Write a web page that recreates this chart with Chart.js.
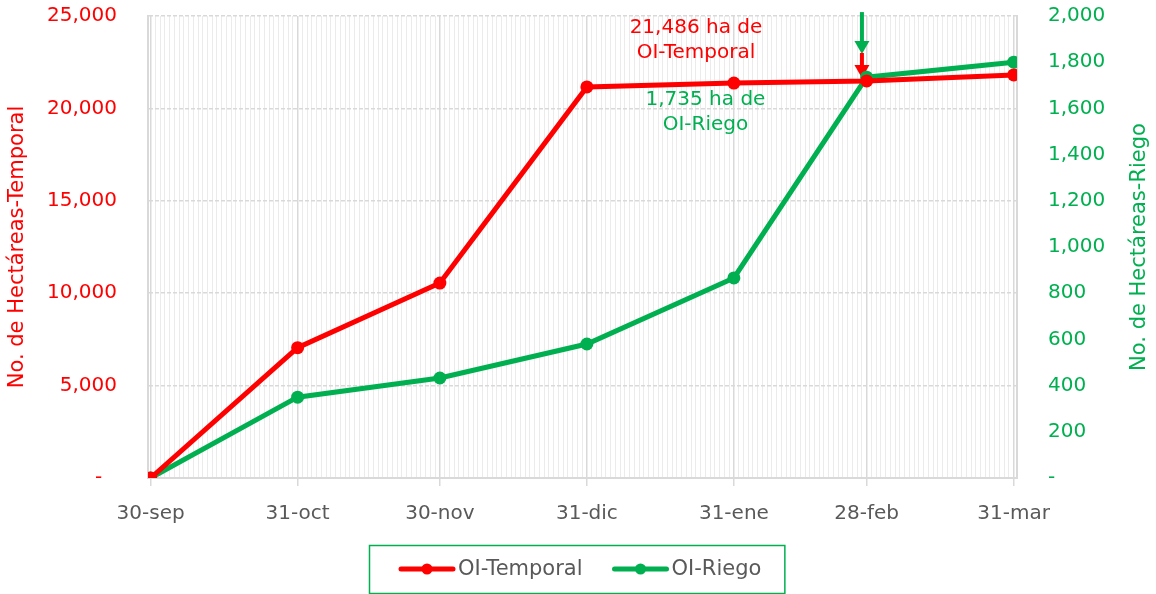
<!DOCTYPE html>
<html>
<head>
<meta charset="utf-8">
<script src="https://cdn.jsdelivr.net/npm/chart.js@4.4.0/dist/chart.umd.min.js"></script>
<style>
html,body{margin:0;padding:0;background:#ffffff;overflow:hidden;}
#wrap{width:1156px;height:594px;position:relative;}
</style>
</head>
<body>
<div id="wrap"><canvas id="c" width="1156" height="594"></canvas></div>
<script>
// ---------- data ----------
const categories = ['30-sep', '31-oct', '30-nov', '31-dic', '31-ene', '28-feb', '31-mar'];
const dayOffsets = [0, 31, 61, 92, 123, 151, 182];          // days after 30-sep
const temporalHa = [0, 7050, 10550, 21160, 21370, 21486, 21810];
const riegoHa    = [0, 350, 433, 580, 866, 1735, 1800];
const seriesNames = ['OI-Temporal', 'OI-Riego'];
const leftAxisMax = 25000, leftAxisStep = 5000;
const rightAxisMax = 2000, rightAxisStep = 200;
const leftTitle = 'No. de Hectáreas-Temporal';
const rightTitle = 'No. de Hectáreas-Riego';

// annotation texts and anchor values (x in days, y in axis units)
const noteTemporalLines = ['21,486 ha de', 'OI-Temporal'];
const noteTemporalAt = { day: 115, value: 24380 };          // left axis
const noteRiegoLines = ['1,735 ha de', 'OI-Riego'];
const noteRiegoAt = { day: 117, value: 1636 };              // right axis
const arrowTemporal = { day: 150, from: 23000, to: 21650 }; // left axis
const arrowRiego    = { day: 150, from: 2017, to: 1835 };   // right axis

// ---------- styles ----------
const RED = '#FF0000', GREEN = '#00B050', GREY = '#595959';
const FONT = "'DejaVu Sans', sans-serif";
Chart.defaults.font.family = FONT;
Chart.defaults.font.size = 20;

const fmt = v => v === 0 ? '-' : Math.round(v).toLocaleString('en-US');

function drawArrow(ctx, x, yTop, yTip, color) {
  const headLen = 13, headW = 15;
  ctx.save();
  ctx.strokeStyle = color; ctx.fillStyle = color; ctx.lineWidth = 4;
  ctx.beginPath(); ctx.moveTo(x, yTop); ctx.lineTo(x, yTip - headLen + 1); ctx.stroke();
  ctx.beginPath();
  ctx.moveTo(x - headW / 2, yTip - headLen);
  ctx.lineTo(x + headW / 2, yTip - headLen);
  ctx.lineTo(x, yTip);
  ctx.closePath(); ctx.fill();
  ctx.restore();
}

const annotatePlugin = {
  id: 'annotate',
  beforeDatasetsDraw(chart) {
    const ctx = chart.ctx, xs = chart.scales.x, yl = chart.scales.y, yr = chart.scales.y1;
    drawArrow(ctx, xs.getPixelForValue(arrowRiego.day), yr.getPixelForValue(arrowRiego.from), yr.getPixelForValue(arrowRiego.to), GREEN);
    drawArrow(ctx, xs.getPixelForValue(arrowTemporal.day), yl.getPixelForValue(arrowTemporal.from), yl.getPixelForValue(arrowTemporal.to), RED);
  },
  afterDraw(chart) {
    const ctx = chart.ctx, xs = chart.scales.x, yl = chart.scales.y, yr = chart.scales.y1;
    const area = chart.chartArea;
    const lh = 25;
    ctx.save();
    // axis titles, both reading bottom-to-top
    ctx.font = '21px ' + FONT;
    ctx.textAlign = 'center'; ctx.textBaseline = 'middle';
    const midY = (area.top + area.bottom) / 2;
    ctx.save(); ctx.translate(18, midY); ctx.rotate(-Math.PI / 2);
    ctx.fillStyle = RED; ctx.fillText(leftTitle, 0, 0); ctx.restore();
    ctx.save(); ctx.translate(1140, midY); ctx.rotate(-Math.PI / 2);
    ctx.fillStyle = GREEN; ctx.fillText(rightTitle, 0, 0); ctx.restore();

    ctx.font = '20px ' + FONT;
    ctx.fillStyle = RED;
    let x = xs.getPixelForValue(noteTemporalAt.day), y = yl.getPixelForValue(noteTemporalAt.value);
    noteTemporalLines.forEach((t, i) => ctx.fillText(t, x, y + i * lh));
    ctx.fillStyle = GREEN;
    x = xs.getPixelForValue(noteRiegoAt.day); y = yr.getPixelForValue(noteRiegoAt.value);
    noteRiegoLines.forEach((t, i) => ctx.fillText(t, x, y + i * lh));

    // legend box
    ctx.font = '21px ' + FONT;
    const items = chart.data.datasets.map(d => ({ label: d.label, color: d.borderColor, w: ctx.measureText(d.label).width }));
    const lineLen = 56, gapText = 3, gapItems = 30, padL = 30, padR = 23;
    let total = padL + padR + gapItems * (items.length - 1);
    items.forEach(it => total += lineLen + gapText + it.w);
    const bx = Math.round(chart.width / 2 - 1.5 - total / 2), by = 545, bh = 48;
    ctx.strokeStyle = GREEN; ctx.lineWidth = 1.5;
    ctx.strokeRect(bx + 0.5, by + 0.5, total, bh);
    let cx = bx + padL; const cy = by + 24;
    ctx.textAlign = 'left';
    items.forEach(it => {
      ctx.strokeStyle = it.color; ctx.lineWidth = 5; ctx.lineCap = 'round';
      ctx.beginPath(); ctx.moveTo(cx + 2, cy); ctx.lineTo(cx + lineLen - 2, cy); ctx.stroke();
      ctx.fillStyle = it.color;
      ctx.beginPath(); ctx.arc(cx + lineLen / 2, cy, 5.5, 0, Math.PI * 2); ctx.fill();
      ctx.fillStyle = GREY;
      ctx.fillText(it.label, cx + lineLen + gapText, cy + 1);
      cx += lineLen + gapText + it.w + gapItems;
    });
    ctx.restore();
  }
};

const toXY = vals => vals.map((v, i) => ({ x: dayOffsets[i], y: v }));

new Chart(document.getElementById('c'), {
  type: 'line',
  data: {
    datasets: [
      { label: seriesNames[0], data: toXY(temporalHa), yAxisID: 'y', xAxisID: 'x',
        borderColor: RED, backgroundColor: RED, borderWidth: 5, pointRadius: 6.5,
        pointBorderWidth: 0, pointBackgroundColor: RED, tension: 0 },
      { label: seriesNames[1], data: toXY(riegoHa), yAxisID: 'y1', xAxisID: 'x',
        borderColor: GREEN, backgroundColor: GREEN, borderWidth: 5, pointRadius: 6.5,
        pointBorderWidth: 0, pointBackgroundColor: GREEN, tension: 0 }
    ]
  },
  options: {
    responsive: false, animation: false, devicePixelRatio: 1,
    layout: { padding: { top: 16, left: 0, right: 0, bottom: 0 } },
    plugins: { legend: { display: false }, tooltip: { enabled: false } },
    scales: {
      x: {
        type: 'linear', position: 'bottom', min: -0.55, max: 182.7,
        afterBuildTicks: s => { s.ticks = dayOffsets.map(v => ({ value: v })); },
        afterFit: s => { s.height = 116; },
        ticks: { autoSkip: false, maxRotation: 0, padding: 16, color: GREY,
          callback: v => categories[dayOffsets.indexOf(v)] },
        grid: { color: '#D9D9D9', lineWidth: 1.5, tickLength: 8, tickColor: '#D9D9D9', z: -1 },
        border: { display: true, color: '#D9D9D9', width: 2 }
      },
      xDays: {
        type: 'linear', position: 'bottom', min: -0.55, max: 182.7,
        afterBuildTicks: s => { const t = []; for (let d = 0; d <= 182; d++) t.push({ value: d }); s.ticks = t; },
        afterFit: s => { s.height = 0; },
        ticks: { display: false },
        grid: { color: '#EBEBEB', lineWidth: 1, drawTicks: false, z: -2 },
        border: { display: false }
      },
      y: {
        position: 'left', min: 0, max: leftAxisMax,
        afterFit: s => { s.width = 148; },
        ticks: { stepSize: leftAxisStep, padding: 0, color: RED,
          callback: v => v === 0 ? '-\u2007\u200A' : fmt(v) },
        grid: { color: '#D9D9D9', lineWidth: 1.5, drawTicks: true, tickLength: 31, tickColor: 'rgba(0,0,0,0)' },
        border: { display: true, color: '#D9D9D9', width: 2, dash: [4, 2] },
        title: { display: false }
      },
      y1: {
        position: 'right', min: 0, max: rightAxisMax,
        afterFit: s => { s.width = 139; },
        ticks: { stepSize: rightAxisStep, padding: 0, color: GREEN, callback: v => fmt(v) },
        grid: { display: true, drawOnChartArea: false, drawTicks: true, tickLength: 31, tickColor: 'rgba(0,0,0,0)', color: 'rgba(0,0,0,0)' },
        border: { display: true, color: '#D9D9D9', width: 2 },
        title: { display: false }
      }
    }
  },
  plugins: [annotatePlugin]
});
</script>
</body>
</html>
